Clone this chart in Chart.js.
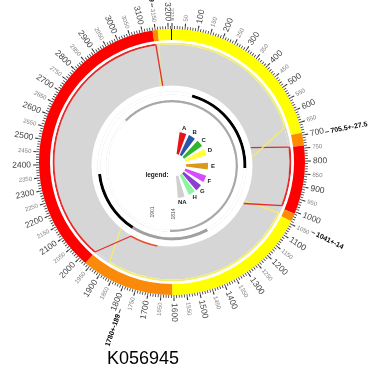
<!DOCTYPE html>
<html><head><meta charset="utf-8">
<script src="https://cdn.jsdelivr.net/npm/chart.js@4.4.0/dist/chart.umd.min.js"></script>
<style>
html,body{margin:0;padding:0;background:#fff;}
#wrap{position:relative;width:369px;height:371px;overflow:hidden;background:#fff;}
#wrap canvas{position:absolute;left:0;top:0;}
</style></head><body>
<div id="wrap">
<canvas id="rings" width="369" height="371"></canvas>
<canvas id="disc" width="369" height="371"></canvas>
<canvas id="links" width="369" height="371"></canvas>
<canvas id="legend" width="369" height="371"></canvas>
</div>
<script>
// ---------------- data ----------------
const genomeLength = 3215;
const tickLabels = [50,100,150,200,250,300,350,400,450,500,550,600,650,700,750,800,850,900,950,1000,
  1050,1100,1150,1200,1250,1300,1350,1400,1450,1500,1550,1600,1650,1700,1750,1800,1850,1900,1950,2000,
  2050,2100,2150,2200,2250,2300,2350,2400,2450,2500,2550,2600,2650,2700,2750,2800,2850,2900,2950,3000,
  3050,3100,3150,3200,3215];
const ringStart = [0, 690, 740, 1008, 1040, 1607, 1970, 3140, 3160, 3211];
const ringEnd   = [690, 740, 1008, 1040, 1607, 1970, 3140, 3160, 3211, 3215];
const ringColor = ['#ffff00','#ff8c00','#ff0000','#ff8c00','#ffff00','#fb8a0a','#ff0000','#ff8c00','#ffff00','#111111'];

const linkOuterStart = [0, 739, 1032, 1970, 3160];
const linkOuterEnd   = [650, 997, 1893, 3145, 3215];
const linkOuterColor = ['#f2ee6a','#e52b2b','#f2ee6a','#e52b2b','#f2ee6a'];
const linkInnerStart = [1700];
const linkInnerEnd   = [1877];
const linkInnerColor = ['#e8502b'];

const connOuterPos = [650, 739, 997, 1032, 1970, 1893, 3145, 3160];
const connInnerPos = [745, 687, 1050, 1032, 1877, 1957, 3156, 3140];
const connColor    = ['#f2ee6a','#e52b2b','#e52b2b','#f2ee6a','#e52b2b','#f2ee6a','#e52b2b','#f2ee6a'];

const geneStart = [143, 1349, 1899];
const geneEnd   = [818, 1899, 2355];
const geneColor = ['#000000','#a0a0a0','#000000'];
const pStart = [0, 2808];
const pEnd   = [1623, 3215];

const annoPos  = [705.5, 1041, 1780, 3150];
const annoText = ['705.5+-27.5', '1041+-14', '1780+-189', '3150+-9'];

const legendLabels = ['A','B','C','D','E','F','G','H','NA'];
const legendColors = ['#e8141c','#2a56a8','#2fb52f','#ffff40','#d99a1a','#d64bff','#8a3fd0','#8cf5a0','#cfcfcf'];
const legendAngles = [14,31,49,67,92,115,134,149,169];

const innerTexts = ['1901','1814'];
const title = 'K056945';

// ---------------- helpers ----------------
const L = genomeLength;
function buildRing(starts, ends, colors, bg, total) {
  total = total || L;
  const items = starts.map((s,i)=>({s:Math.max(0,s), e:Math.min(total,ends[i]), c:colors[i]})).sort((a,b)=>a.s-b.s);
  const data = [], bgc = [];
  let cur = 0;
  for (const it of items) {
    if (it.s > cur) { data.push(it.s-cur); bgc.push(bg); }
    if (it.e > it.s) { data.push(it.e-Math.max(it.s,cur)); bgc.push(it.c); }
    cur = Math.max(cur, it.e);
  }
  if (cur < total) { data.push(total-cur); bgc.push(bg); }
  return {data, backgroundColor: bgc};
}
function tickRing(positions, w, color) {
  const s = [], e = [], c = [];
  positions.forEach(p => {
    let a = p - w/2, b = p + w/2;
    if (a < 0) { s.push(0); e.push(b); c.push(color); s.push(L + a); e.push(L); c.push(color); }
    else if (b > L) { s.push(a); e.push(L); c.push(color); s.push(0); e.push(b-L); c.push(color); }
    else { s.push(a); e.push(b); c.push(color); }
  });
  return buildRing(s, e, c, 'rgba(0,0,0,0)');
}
function ds(ring, weight) {
  return Object.assign({weight, borderWidth:0, hoverBorderWidth:0, offset:0, hoverOffset:0}, ring);
}
function solid(color) { return {data:[L], backgroundColor:[color]}; }
function radialText(ctx, cx, cy, pos, r, text, total) {
  total = total || L;
  const th = pos/total*2*Math.PI, phi = th - Math.PI/2;
  ctx.save(); ctx.translate(cx, cy); ctx.textBaseline = 'middle';
  if (th < Math.PI) { ctx.rotate(phi); ctx.textAlign = 'left'; ctx.fillText(text, r, 0); }
  else { ctx.rotate(phi + Math.PI); ctx.textAlign = 'right'; ctx.fillText(text, -r, 0); }
  ctx.restore();
}
function polar(cx, cy, r, pos) {
  const th = pos/L*2*Math.PI;
  return {x: cx + r*Math.sin(th), y: cy - r*Math.cos(th)};
}
const FONT = '"Liberation Sans", Arial, sans-serif';
const baseOpts = {responsive:false, animation:false, events:[], devicePixelRatio:1,
  plugins:{legend:{display:false}, tooltip:{enabled:false}}};

// ---------------- chart A: outer rings ----------------
const A = {cx:172, cy:162, R:139, cut:58};
const minorTicks = []; for (let p = 0; p < L; p += 10) minorTicks.push(p);
const RING_GREY = '#d6d6d6';
const labelPlugin = {
  id:'labelPlugin',
  afterDatasetsDraw(chart) {
    const ctx = chart.ctx;
    const arc = chart.getDatasetMeta(0).data[0];
    const cx = arc.x, cy = arc.y;
    ctx.save();
    tickLabels.forEach(v => {
      const major = v % 100 === 0;
      ctx.font = (major ? '8.5px ' : '6px ') + FONT;
      ctx.fillStyle = major ? '#444' : '#808080';
      radialText(ctx, cx, cy, v, 141, String(v));
    });
    ctx.font = 'bold 7px ' + FONT;
    ctx.fillStyle = '#000';
    ctx.strokeStyle = '#222'; ctx.lineWidth = 0.8;
    annoPos.forEach((p, i) => {
      const a = polar(cx, cy, 156, p), b = polar(cx, cy, 160, p);
      ctx.beginPath(); ctx.moveTo(a.x, a.y); ctx.lineTo(b.x, b.y); ctx.stroke();
      radialText(ctx, cx, cy, p, 161.5, annoText[i]);
    });
    ctx.font = '18px ' + FONT;
    ctx.textAlign = 'left'; ctx.textBaseline = 'alphabetic';
    ctx.fillText(title, 107, 364);
    ctx.restore();
  }
};
new Chart(document.getElementById('rings'), {
  type:'doughnut',
  data:{datasets:[
    ds(tickRing(tickLabels, 4, '#333'), 3),
    ds(tickRing(minorTicks, 3, '#333'), 3),
    ds(buildRing(ringStart, ringEnd, ringColor, '#fff'), 11),
    ds(solid('#ffffff'), 2.5),
    ds(buildRing(linkOuterStart, linkOuterEnd, linkOuterColor, RING_GREY), 2),
    ds(solid(RING_GREY), A.R - 21.5 - A.cut)
  ]},
  options:Object.assign({}, baseOpts, {
    cutout: (A.cut / A.R * 100) + '%',
    layout:{padding:{left:A.cx - A.R, right:369 - A.cx - A.R, top:A.cy - A.R, bottom:371 - A.cy - A.R}}
  }),
  plugins:[labelPlugin]
});

// ---------------- chart D: inner disc ----------------
const D = {cx:172, cy:166, R:82};
const discPlugin = {
  id:'discPlugin',
  afterDatasetsDraw(chart) {
    const ctx = chart.ctx;
    ctx.save();
    ctx.font = '5px ' + FONT; ctx.fillStyle = '#555';
    ctx.textAlign = 'center'; ctx.textBaseline = 'middle';
    [[153,212],[174,214]].forEach((pt, i) => {
      ctx.save(); ctx.translate(pt[0], pt[1]); ctx.rotate(-Math.PI/2);
      ctx.fillText(innerTexts[i], 0, 0); ctx.restore();
    });
    ctx.restore();
  }
};
new Chart(document.getElementById('disc'), {
  type:'doughnut',
  data:{datasets:[
    ds(buildRing(linkInnerStart, linkInnerEnd, linkInnerColor, 'rgba(0,0,0,0)'), 1.5),
    ds(solid('#ffffff'), 6),
    ds(buildRing(geneStart, geneEnd, geneColor, '#ffffff'), 3),
    ds(solid('#ffffff'), 5.5),
    ds(buildRing(pStart, pEnd, ['#a8a8a8','#a8a8a8'], '#ffffff'), 2.2),
    ds(solid('#ffffff'), 63.8)
  ]},
  options:Object.assign({}, baseOpts, {
    cutout:'0%',
    layout:{padding:{left:D.cx - D.R, right:369 - D.cx - D.R, top:D.cy - D.R, bottom:371 - D.cy - D.R}}
  }),
  plugins:[discPlugin]
});

// ---------------- chart B: link connectors ----------------
const connSets = connOuterPos.map((p, i) => ({
  data:[polar(A.cx, A.cy, 118.5, p), polar(D.cx, D.cy, 81, connInnerPos[i])],
  borderColor: connColor[i], borderWidth: 1.3, showLine: true, pointRadius: 0, fill:false
}));
new Chart(document.getElementById('links'), {
  type:'scatter',
  data:{datasets: connSets},
  options:Object.assign({}, baseOpts, {
    layout:{padding:0},
    scales:{
      x:{type:'linear', min:0, max:369, display:false},
      y:{type:'linear', min:0, max:371, reverse:true, display:false}
    }
  })
});

// ---------------- chart C: legend fan ----------------
const C = {cx:175, cy:165, R:33, cut:11};
const fanS = [], fanE = [], fanC = [];
legendAngles.forEach((a, i) => { fanS.push(a - 6); fanE.push(a + 6); fanC.push(legendColors[i]); });
const legendPlugin = {
  id:'legendPlugin',
  afterDatasetsDraw(chart) {
    const ctx = chart.ctx;
    ctx.save();
    ctx.fillStyle = '#222';
    ctx.font = 'bold 6px ' + FONT;
    ctx.textAlign = 'center'; ctx.textBaseline = 'middle';
    legendAngles.forEach((a, i) => {
      const th = a/180*Math.PI;
      ctx.fillText(legendLabels[i], C.cx + 38*Math.sin(th), C.cy - 38*Math.cos(th));
    });
    ctx.font = 'bold 6.5px ' + FONT;
    ctx.fillText('legend:', 157, 175);
    ctx.restore();
  }
};
new Chart(document.getElementById('legend'), {
  type:'doughnut',
  data:{datasets:[ds(buildRing(fanS, fanE, fanC, 'rgba(0,0,0,0)', 360), 1)]},
  options:Object.assign({}, baseOpts, {
    cutout:(C.cut / C.R * 100) + '%',
    layout:{padding:{left:C.cx - C.R, right:369 - C.cx - C.R, top:C.cy - C.R, bottom:371 - C.cy - C.R}}
  }),
  plugins:[legendPlugin]
});
</script>
</body></html>
